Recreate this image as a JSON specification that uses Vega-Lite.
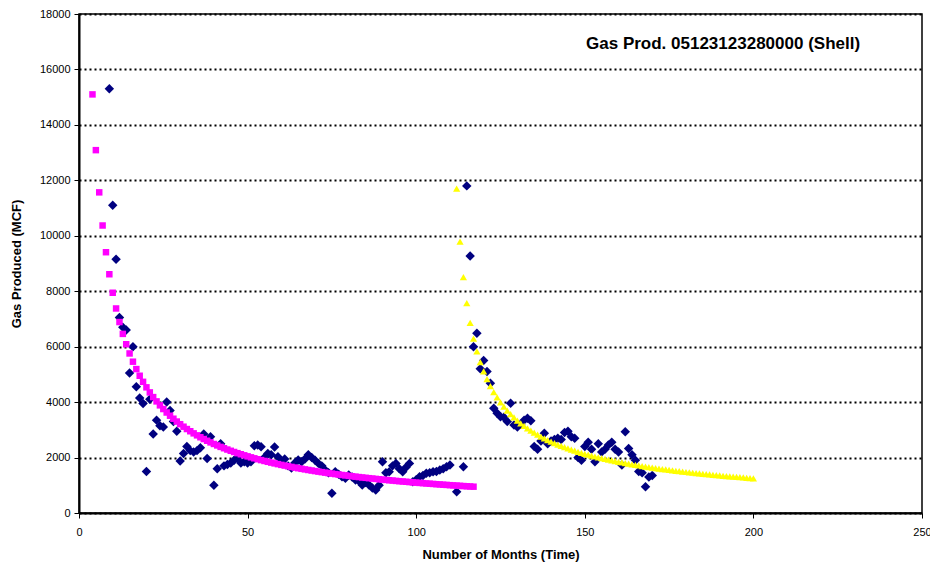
{
  "$schema": "https://vega.github.io/schema/vega-lite/v6.json",
  "width": 843,
  "height": 499,
  "autosize": "none",
  "padding": {"left": 79, "top": 14, "right": 8, "bottom": 54},
  "background": "white",
  "config": {
    "view": {"stroke": "black", "strokeWidth": 1.5},
    "font": "Liberation Sans"
  },
  "datasets": {
    "actual": [
      {"m":9,"v":15300},{"m":10,"v":11100},{"m":11,"v":9150},{"m":12,"v":7050},{"m":13,"v":6700},{"m":14,"v":6600},{"m":15,"v":5050},{"m":16,"v":6000},{"m":17,"v":4550},{"m":18,"v":4150},{"m":19,"v":3950},{"m":20,"v":1500},{"m":21,"v":4100},{"m":22,"v":2850},{"m":23,"v":3350},{"m":24,"v":3150},{"m":25,"v":3100},{"m":26,"v":4000},{"m":27,"v":3700},{"m":28,"v":3300},{"m":29,"v":2950},{"m":30,"v":1880},{"m":31,"v":2150},{"m":32,"v":2400},{"m":33,"v":2250},{"m":34,"v":2200},{"m":35,"v":2250},{"m":36,"v":2350},{"m":37,"v":2850},{"m":38,"v":1970},{"m":39,"v":2750},{"m":40,"v":1000},{"m":41,"v":1600},{"m":42,"v":2500},{"m":43,"v":1700},{"m":44,"v":1750},{"m":45,"v":1800},{"m":46,"v":1900},{"m":47,"v":2000},{"m":48,"v":1800},{"m":49,"v":1850},{"m":50,"v":1800},{"m":51,"v":1850},{"m":52,"v":2430},{"m":53,"v":2450},{"m":54,"v":2390},{"m":55,"v":2000},{"m":56,"v":2150},{"m":57,"v":2100},{"m":58,"v":2380},{"m":59,"v":2030},{"m":60,"v":1850},{"m":61,"v":1950},{"m":62,"v":1700},{"m":63,"v":1620},{"m":64,"v":1800},{"m":65,"v":1910},{"m":66,"v":1850},{"m":67,"v":1950},{"m":68,"v":2100},{"m":69,"v":2000},{"m":70,"v":1900},{"m":71,"v":1790},{"m":72,"v":1700},{"m":73,"v":1550},{"m":74,"v":1450},{"m":75,"v":710},{"m":76,"v":1490},{"m":77,"v":1400},{"m":78,"v":1310},{"m":79,"v":1250},{"m":80,"v":1370},{"m":81,"v":1300},{"m":82,"v":1190},{"m":83,"v":1150},{"m":84,"v":1010},{"m":85,"v":1100},{"m":86,"v":1010},{"m":87,"v":900},{"m":88,"v":830},{"m":89,"v":1000},{"m":90,"v":1850},{"m":91,"v":1450},{"m":92,"v":1490},{"m":93,"v":1700},{"m":94,"v":1790},{"m":95,"v":1600},{"m":96,"v":1490},{"m":97,"v":1650},{"m":98,"v":1790},{"m":99,"v":1130},{"m":100,"v":1200},{"m":101,"v":1310},{"m":102,"v":1350},{"m":103,"v":1430},{"m":104,"v":1450},{"m":105,"v":1490},{"m":106,"v":1500},{"m":107,"v":1550},{"m":108,"v":1600},{"m":109,"v":1670},{"m":110,"v":1730},{"m":112,"v":770},{"m":114,"v":1670},
      {"m":115,"v":11800},{"m":116,"v":9270},{"m":117,"v":6000},{"m":118,"v":6480},{"m":119,"v":5200},{"m":120,"v":5500},{"m":121,"v":5100},{"m":122,"v":4680},{"m":123,"v":3780},{"m":124,"v":3600},{"m":125,"v":3475},{"m":126,"v":3450},{"m":127,"v":3300},{"m":128,"v":3960},{"m":129,"v":3175},{"m":130,"v":3100},{"m":131,"v":3200},{"m":132,"v":3350},{"m":133,"v":3415},{"m":134,"v":3330},{"m":135,"v":2400},{"m":136,"v":2300},{"m":137,"v":2600},{"m":138,"v":2875},{"m":139,"v":2500},{"m":140,"v":2600},{"m":141,"v":2650},{"m":142,"v":2700},{"m":143,"v":2650},{"m":144,"v":2900},{"m":145,"v":2950},{"m":146,"v":2750},{"m":147,"v":2700},{"m":148,"v":2000},{"m":149,"v":1900},{"m":150,"v":2400},{"m":151,"v":2550},{"m":152,"v":2300},{"m":153,"v":1850},{"m":154,"v":2500},{"m":155,"v":2200},{"m":156,"v":2300},{"m":157,"v":2450},{"m":158,"v":2550},{"m":159,"v":2300},{"m":160,"v":2200},{"m":161,"v":1730},{"m":162,"v":2930},{"m":163,"v":2330},{"m":164,"v":2100},{"m":165,"v":1900},{"m":166,"v":1500},{"m":167,"v":1450},{"m":168,"v":950},{"m":169,"v":1300},{"m":170,"v":1350}
    ],
    "fit1": [
      {"m":4,"v":15100},{"m":5,"v":13089},{"m":6,"v":11566},{"m":7,"v":10371},{"m":8,"v":9407},{"m":9,"v":8612},{"m":10,"v":7945},{"m":11,"v":7378},{"m":12,"v":6888},{"m":13,"v":6461},{"m":14,"v":6087},{"m":15,"v":5755},{"m":16,"v":5458},{"m":17,"v":5192},{"m":18,"v":4951},{"m":19,"v":4732},{"m":20,"v":4533},{"m":21,"v":4350},{"m":22,"v":4181},{"m":23,"v":4026},{"m":24,"v":3883},{"m":25,"v":3750},{"m":26,"v":3625},{"m":27,"v":3509},{"m":28,"v":3401},{"m":29,"v":3299},{"m":30,"v":3204},{"m":31,"v":3113},{"m":32,"v":3029},{"m":33,"v":2949},{"m":34,"v":2873},{"m":35,"v":2801},{"m":36,"v":2732},{"m":37,"v":2667},{"m":38,"v":2606},{"m":39,"v":2547},{"m":40,"v":2490},{"m":41,"v":2437},{"m":42,"v":2385},{"m":43,"v":2336},{"m":44,"v":2289},{"m":45,"v":2244},{"m":46,"v":2201},{"m":47,"v":2159},{"m":48,"v":2119},{"m":49,"v":2081},{"m":50,"v":2044},{"m":51,"v":2008},{"m":52,"v":1973},{"m":53,"v":1940},{"m":54,"v":1908},{"m":55,"v":1877},{"m":56,"v":1847},{"m":57,"v":1818},{"m":58,"v":1790},{"m":59,"v":1763},{"m":60,"v":1736},{"m":61,"v":1711},{"m":62,"v":1686},{"m":63,"v":1662},{"m":64,"v":1639},{"m":65,"v":1616},{"m":66,"v":1594},{"m":67,"v":1573},{"m":68,"v":1552},{"m":69,"v":1532},{"m":70,"v":1512},{"m":71,"v":1493},{"m":72,"v":1474},{"m":73,"v":1456},{"m":74,"v":1438},{"m":75,"v":1421},{"m":76,"v":1404},{"m":77,"v":1387},{"m":78,"v":1372},{"m":79,"v":1356},{"m":80,"v":1340},{"m":81,"v":1325},{"m":82,"v":1311},{"m":83,"v":1296},{"m":84,"v":1282},{"m":85,"v":1269},{"m":86,"v":1256},{"m":87,"v":1243},{"m":88,"v":1230},{"m":89,"v":1217},{"m":90,"v":1205},{"m":91,"v":1193},{"m":92,"v":1181},{"m":93,"v":1170},{"m":94,"v":1158},{"m":95,"v":1147},{"m":96,"v":1136},{"m":97,"v":1126},{"m":98,"v":1115},{"m":99,"v":1105},{"m":100,"v":1095},{"m":101,"v":1085},{"m":102,"v":1076},{"m":103,"v":1066},{"m":104,"v":1057},{"m":105,"v":1048},{"m":106,"v":1039},{"m":107,"v":1030},{"m":108,"v":1021},{"m":109,"v":1013},{"m":110,"v":1004},{"m":111,"v":996},{"m":112,"v":988},{"m":113,"v":980},{"m":114,"v":972},{"m":115,"v":964},{"m":116,"v":957},{"m":117,"v":949}
    ],
    "fit2": [
      {"m":112,"v":11701},{"m":113,"v":9792},{"m":114,"v":8506},{"m":115,"v":7572},{"m":116,"v":6858},{"m":117,"v":6290},{"m":118,"v":5827},{"m":119,"v":5440},{"m":120,"v":5111},{"m":121,"v":4828},{"m":122,"v":4580},{"m":123,"v":4362},{"m":124,"v":4168},{"m":125,"v":3994},{"m":126,"v":3838},{"m":127,"v":3695},{"m":128,"v":3565},{"m":129,"v":3446},{"m":130,"v":3336},{"m":131,"v":3235},{"m":132,"v":3141},{"m":133,"v":3053},{"m":134,"v":2971},{"m":135,"v":2895},{"m":136,"v":2823},{"m":137,"v":2755},{"m":138,"v":2692},{"m":139,"v":2632},{"m":140,"v":2575},{"m":141,"v":2521},{"m":142,"v":2469},{"m":143,"v":2421},{"m":144,"v":2374},{"m":145,"v":2330},{"m":146,"v":2288},{"m":147,"v":2248},{"m":148,"v":2209},{"m":149,"v":2172},{"m":150,"v":2137},{"m":151,"v":2102},{"m":152,"v":2069},{"m":153,"v":2038},{"m":154,"v":2008},{"m":155,"v":1978},{"m":156,"v":1950},{"m":157,"v":1923},{"m":158,"v":1897},{"m":159,"v":1871},{"m":160,"v":1846},{"m":161,"v":1823},{"m":162,"v":1800},{"m":163,"v":1777},{"m":164,"v":1756},{"m":165,"v":1734},{"m":166,"v":1714},{"m":167,"v":1694},{"m":168,"v":1675},{"m":169,"v":1656},{"m":170,"v":1638},{"m":171,"v":1620},{"m":172,"v":1603},{"m":173,"v":1586},{"m":174,"v":1570},{"m":175,"v":1553},{"m":176,"v":1538},{"m":177,"v":1523},{"m":178,"v":1508},{"m":179,"v":1493},{"m":180,"v":1479},{"m":181,"v":1466},{"m":182,"v":1452},{"m":183,"v":1439},{"m":184,"v":1426},{"m":185,"v":1413},{"m":186,"v":1401},{"m":187,"v":1389},{"m":188,"v":1377},{"m":189,"v":1366},{"m":190,"v":1354},{"m":191,"v":1343},{"m":192,"v":1332},{"m":193,"v":1322},{"m":194,"v":1311},{"m":195,"v":1301},{"m":196,"v":1291},{"m":197,"v":1281},{"m":198,"v":1271},{"m":199,"v":1262},{"m":200,"v":1253}
    ]
  },
  "layer": [
    {
      "data": {"name": "actual"},
      "mark": {"type": "point", "shape": "diamond", "filled": true, "color": "#000080", "size": 90, "opacity": 1},
      "encoding": {
        "x": {
          "field": "m", "type": "quantitative",
          "scale": {"domain": [0, 250], "nice": false, "zero": true},
          "axis": {
            "values": [0, 50, 100, 150, 200, 250],
            "grid": false,
            "domainColor": "black", "domainWidth": 2,
            "tickColor": "black", "tickSize": 5, "tickWidth": 1,
            "labelFont": "Liberation Sans", "labelFontSize": 11, "labelColor": "black", "labelPadding": 8,
            "labelFlush": false,
            "title": "Number of Months (Time)",
            "titleFont": "Liberation Sans", "titleFontSize": 13, "titleFontWeight": "bold", "titleColor": "black", "titlePadding": 11
          }
        },
        "y": {
          "field": "v", "type": "quantitative",
          "scale": {"domain": [0, 18000], "nice": false},
          "axis": {
            "values": [0, 2000, 4000, 6000, 8000, 10000, 12000, 14000, 16000, 18000],
            "format": "d",
            "grid": true, "gridColor": "black", "gridDash": [2, 3], "gridWidth": 2, "gridOpacity": 1,
            "domainColor": "black", "domainWidth": 2,
            "tickColor": "black", "tickSize": 5, "tickWidth": 1,
            "labelFont": "Liberation Sans", "labelFontSize": 11, "labelColor": "black", "labelPadding": 4,
            "labelFlush": false,
            "title": "Gas Produced (MCF)",
            "titleFont": "Liberation Sans", "titleFontSize": 13, "titleFontWeight": "bold", "titleColor": "black", "titlePadding": 16
          }
        }
      }
    },
    {
      "data": {"name": "fit1"},
      "mark": {"type": "point", "shape": "square", "filled": true, "color": "#FF00FF", "size": 42, "opacity": 1},
      "encoding": {
        "x": {"field": "m", "type": "quantitative"},
        "y": {"field": "v", "type": "quantitative"}
      }
    },
    {
      "data": {"name": "fit2"},
      "mark": {"type": "point", "shape": "triangle-up", "filled": true, "color": "#FFFF00", "size": 52, "opacity": 1},
      "encoding": {
        "x": {"field": "m", "type": "quantitative"},
        "y": {"field": "v", "type": "quantitative"}
      }
    },
    {
      "data": {"values": [{"m": 191, "v": 16920, "t": "Gas Prod. 05123123280000 (Shell)"}]},
      "mark": {"type": "text", "font": "Liberation Sans", "fontSize": 17, "fontWeight": "bold", "color": "black", "align": "center", "baseline": "middle"},
      "encoding": {
        "x": {"field": "m", "type": "quantitative"},
        "y": {"field": "v", "type": "quantitative"},
        "text": {"field": "t"}
      }
    }
  ]
}
